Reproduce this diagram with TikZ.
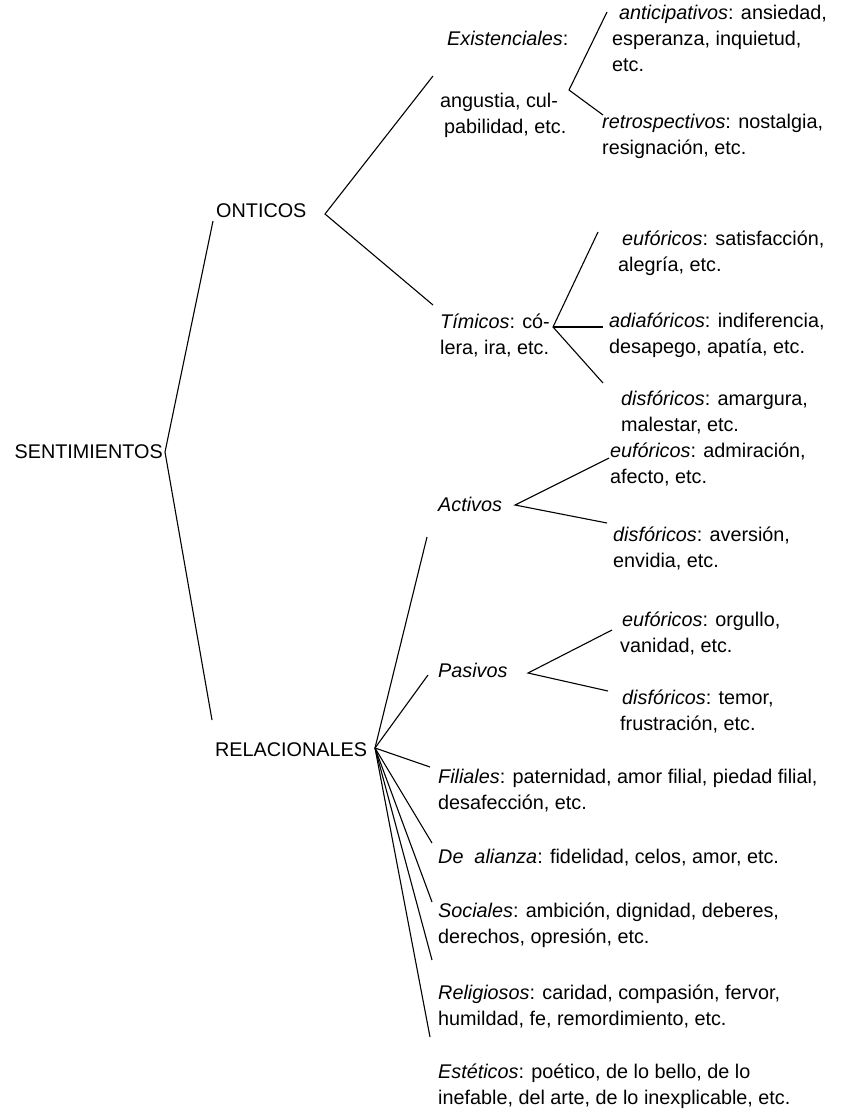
\documentclass[tikz,border=0pt]{standalone}
\usepackage{fontspec}
\setmainfont{Liberation Sans}
\begin{document}
\begin{tikzpicture}[x=1pt,y=-1pt,
  lbl/.style={inner sep=0pt, anchor=west, align=left,
              font=\fontsize{19.8}{26}\selectfont},
  br/.style={line width=1.1pt, black}]
\useasboundingbox (0,0) rectangle (842,1114);

% ---- labels ----
\node[lbl, anchor=east] (sen) at (163,452) {SENTIMIENTOS};
\node[lbl] (ont) at (216,211) {ONTICOS};
\node[lbl] (rel) at (215,750) {RELACIONALES};

\node[lbl] (exi) at (447,38) {\textit{Existenciales}:};
\node[lbl] (ang) at (440,115) {angustia, cul-\\\hspace*{4pt}pabilidad, etc.};
\node[lbl] (ant) at (612,38) {\hspace*{7pt}\textit{anticipativos}: ansiedad,\\esperanza, inquietud,\\etc.};
\node[lbl] (ret) at (602,136) {\textit{retrospectivos}: nostalgia,\\resignación, etc.};

\node[lbl] (tim) at (440,335) {\textit{Tímicos}: có-\\lera, ira, etc.};
\node[lbl] (teu) at (618,253) {\hspace*{4pt}\textit{eufóricos}: satisfacción,\\alegría, etc.};
\node[lbl] (tad) at (609,335) {\textit{adiafóricos}: indiferencia,\\desapego, apatía, etc.};
\node[lbl] (tdi) at (621,412) {\textit{disfóricos}: amargura,\\malestar, etc.};

\node[lbl] (act) at (438,504) {\textit{Activos}};
\node[lbl] (aeu) at (610,464) {\textit{eufóricos}: admiración,\\afecto, etc.};
\node[lbl] (adi) at (613,548) {\textit{disfóricos}: aversión,\\envidia, etc.};

\node[lbl] (pas) at (438,670) {\textit{Pasivos}};
\node[lbl] (peu) at (620,633) {\hspace*{2pt}\textit{eufóricos}: orgullo,\\vanidad, etc.};
\node[lbl] (pdi) at (620,711) {\hspace*{2pt}\textit{disfóricos}: temor,\\frustración, etc.};

\node[lbl] (fil) at (438,791) {\textit{Filiales}: paternidad, amor filial, piedad filial,\\desafección, etc.};
\node[lbl] (ali) at (438,858) {\textit{De\ \ alianza}: fidelidad, celos, amor, etc.};
\node[lbl] (soc) at (438,925) {\textit{Sociales}: ambición, dignidad, deberes,\\derechos, opresión, etc.};
\node[lbl] (reg) at (438,1006) {\textit{Religiosos}: caridad, compasión, fervor,\\humildad, fe, remordimiento, etc.};
\node[lbl] (est) at (438,1086) {\textit{Estéticos}: poético, de lo bello, de lo\\inefable, del arte, de lo inexplicable, etc.};

% ---- branching points ----
\coordinate (sj) at (165,452);
\coordinate (oj) at (325,214);
\coordinate (ej) at (569,90);
\coordinate (tj) at (553,327);
\coordinate (aj) at (515,505);
\coordinate (pj) at (528,673);
\coordinate (rj) at (375,748);

% ---- free ends beside the labels ----
\coordinate (e-ont) at (213,221);
\coordinate (e-rel) at (212,720);
\coordinate (e-exi) at (433,76);
\coordinate (e-tim) at (433,305);
\coordinate (e-ant) at (607,12);
\coordinate (e-ret) at (603,115);
\coordinate (e-teu) at (598,232);
\coordinate (e-tad) at (603,327);
\coordinate (e-tdi) at (603,383);
\coordinate (e-aeu) at (609,458);
\coordinate (e-adi) at (607,523);
\coordinate (e-peu) at (612,630);
\coordinate (e-pdi) at (608,691);
\coordinate (e-act) at (427,537);
\coordinate (e-pas) at (428,675);
\coordinate (e-fil) at (430,767);
\coordinate (e-ali) at (432,843);
\coordinate (e-soc) at (432,902);
\coordinate (e-reg) at (432,960);
\coordinate (e-est) at (430,1037);

% ---- branches ----
\draw[br] (e-ont) -- (sj) -- (e-rel);
\draw[br] (e-exi) -- (oj) -- (e-tim);
\draw[br] (e-ant) -- (ej) -- (e-ret);
\draw[br] (e-teu) -- (tj) -- (e-tdi);
\draw[br] (tj) -- (e-tad);
\draw[br] (e-aeu) -- (aj) -- (e-adi);
\draw[br] (e-peu) -- (pj) -- (e-pdi);
\foreach \t in {act,pas,fil,ali,soc,reg,est}
  \draw[br] (rj) -- (e-\t);
\end{tikzpicture}
\end{document}
